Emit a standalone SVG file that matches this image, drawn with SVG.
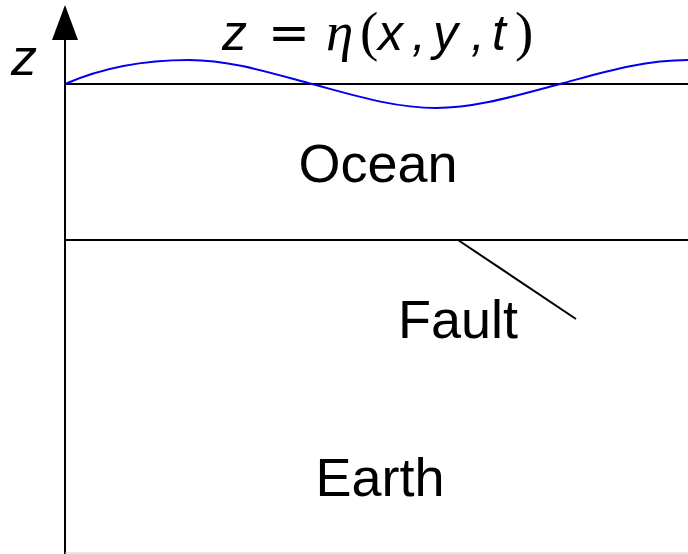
<svg xmlns="http://www.w3.org/2000/svg" width="688" height="554" viewBox="0 0 688 554">
<style>
.ln{stroke:#000;stroke-width:2;fill:none}
.lbl{font-family:"Liberation Sans",Arial,sans-serif;font-size:54px;fill:#000}
.it{font-family:"Liberation Sans",Arial,sans-serif;font-style:italic}
.rm{font-family:"Liberation Serif","Times New Roman",serif}
.gk{font-family:"Liberation Serif","Times New Roman",serif;font-style:italic}
.eq{font-family:"DejaVu Sans",sans-serif}
</style>
<rect width="688" height="554" fill="#fff"/>
<g id="connectors">
<line class="ln" x1="65" y1="554" x2="65" y2="38"/>
<path d="M65,40 L52,40 L65,5 L78,40 Z" fill="#000"/>
<line class="ln" x1="65" y1="84" x2="688" y2="84"/>
<line class="ln" x1="65" y1="240" x2="688" y2="240"/>
<line class="ln" x1="458" y1="240" x2="576" y2="319"/>
<line x1="65" y1="553" x2="688" y2="553" stroke="#ccc" stroke-width="1"/>
</g>
<g id="wave">
<path fill="none" stroke="#0000ee" stroke-width="2" d="M65,84 C106,66 147,60 189,60 C230,60 271,73 312,84 C353,95 394,108 436,108 C477,108 518,95 560,84 C601,73 642,60 688,60"/>
</g>
<g id="axis-label"><text class="it" x="11" y="75" font-size="52">z</text></g>
<g id="title">
<text y="50" font-size="50" fill="#000"><tspan class="it" x="222">z</tspan><tspan class="eq" x="268">=</tspan><tspan class="gk" x="326" font-size="55">η</tspan><tspan class="rm" x="360" font-size="55">(</tspan><tspan class="it" x="378">x</tspan><tspan class="it" x="412">,</tspan><tspan class="it" x="433">y</tspan><tspan class="it" x="471">,</tspan><tspan class="it" x="492">t</tspan><tspan class="rm" x="515" font-size="55">)</tspan></text>
</g>
<g id="ocean"><text class="lbl" x="378" y="182" text-anchor="middle">Ocean</text></g>
<g id="fault"><text class="lbl" x="458" y="338" text-anchor="middle">Fault</text></g>
<g id="earth"><text class="lbl" x="380" y="496" text-anchor="middle">Earth</text></g>
</svg>
